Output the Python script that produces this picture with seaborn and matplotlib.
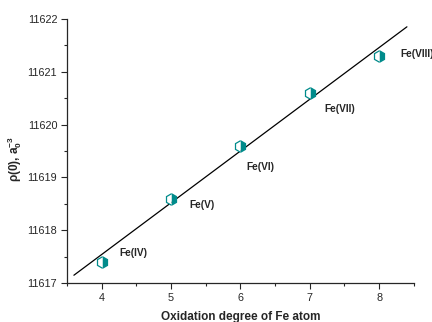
import numpy as np
import pandas as pd
import matplotlib
matplotlib.use("Agg")
import matplotlib.pyplot as plt
import seaborn as sns
from matplotlib.ticker import MultipleLocator

oxidation = [4, 5, 6, 7, 8]
rho = [11617.4, 11618.6, 11619.6, 11620.6, 11621.3]
labels = ["Fe(IV)", "Fe(V)", "Fe(VI)", "Fe(VII)", "Fe(VIII)"]
label_x = [4.25, 5.26, 6.08, 7.21, 8.3]
label_y = [11617.57, 11618.48, 11619.2, 11620.3, 11621.34]
fit_range = [3.6, 8.4]

sns.set_style("ticks")
plt.rcParams['font.family'] = ['Liberation Sans', 'DejaVu Sans']
plt.rcParams['mathtext.fontset'] = 'custom'
plt.rcParams['mathtext.rm'] = 'Liberation Sans'
plt.rcParams['mathtext.bf'] = 'Liberation Sans:bold'
plt.rcParams['mathtext.it'] = 'Liberation Sans:italic'

fig = plt.figure(figsize=(4.32, 3.22), dpi=100)
ax = fig.add_axes([0.155, 0.121, 0.803, 0.82])

df = pd.DataFrame({"x": oxidation, "y": rho})
slope, intercept = np.polyfit(df["x"], df["y"], 1)
fx = np.array(fit_range)
fit_df = pd.DataFrame({"x": fx, "y": slope * fx + intercept})
sns.lineplot(data=fit_df, x="x", y="y", ax=ax, color="black", linewidth=0.9)

sns.lineplot(data=df, x="x", y="y", ax=ax, linestyle="", marker="h",
             markersize=8.3, color="#008B8B", markerfacecolor="#008B8B",
             markeredgecolor="#008B8B", fillstyle="right",
             markerfacecoloralt="white", markeredgewidth=0.9)

for t, x, y in zip(labels, label_x, label_y):
    ax.text(x, y, t, fontsize=7.3, fontweight="bold", ha="left", va="center")

ax.set_xlim(3.5, 8.5)
ax.set_ylim(11617, 11622)
ax.xaxis.set_major_locator(MultipleLocator(1))
ax.xaxis.set_minor_locator(MultipleLocator(0.5))
ax.yaxis.set_major_locator(MultipleLocator(1))
ax.yaxis.set_minor_locator(MultipleLocator(0.5))
ax.ticklabel_format(useOffset=False, style="plain", axis="y")
ax.tick_params(which="major", direction="out", length=4, width=0.8, labelsize=7.8, pad=3)
ax.tick_params(which="minor", direction="out", length=2.5, width=0.8)
sns.despine(ax=ax)
for s in ["left", "bottom"]:
    ax.spines[s].set_linewidth(0.9)

ax.set_xlabel("Oxidation degree of Fe atom", fontsize=8.5, fontweight="bold", labelpad=6)
ax.set_ylabel(r"$\mathbf{\rho}$(0), a$_\mathregular{0}^\mathregular{-3}$", fontsize=8.5,
              fontweight="bold")
ax.yaxis.set_label_coords(-0.125, 0.47)

fig.savefig("out.png", dpi=100)
